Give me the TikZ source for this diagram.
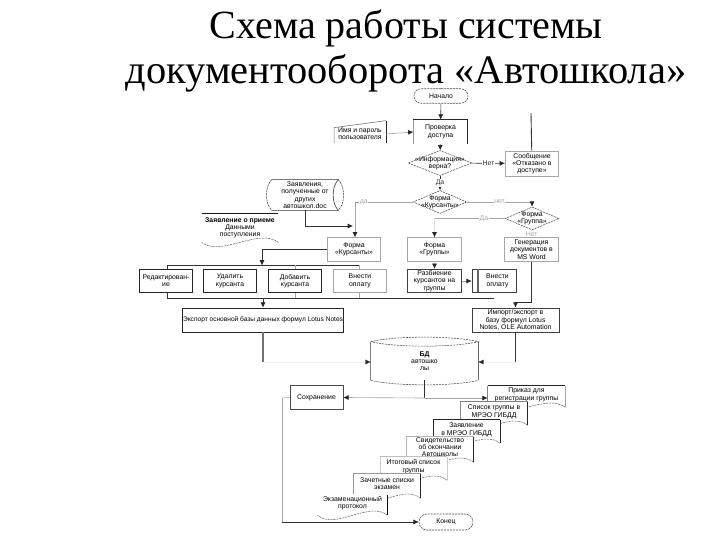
\documentclass[tikz,border=0pt]{standalone}
\usepackage{fontspec}
\setmainfont{Liberation Serif}
\newfontfamily\boxfont{Liberation Sans}
\usetikzlibrary{shapes.geometric,shapes.misc,calc,arrows.meta}
\tikzset{
	>={Latex[length=3pt,width=2.8pt,black!85]},
	lbl/.style={font=\boxfont\fontsize{3.9}{4.15}\selectfont,align=center,inner sep=0pt},
	box/.style={lbl,draw=black!75,line width=0.35pt,minimum width=1.07cm,minimum height=0.47cm},
	softbox/.style={box,draw=black!35},
	doc/.style={lbl,fill=white,minimum width=1.33cm,minimum height=0.46cm},
	dotted line/.style={line width=0.3pt,dash pattern=on 1.2pt off 0.5pt},
	dia/.style={lbl,draw=black!70,dotted line,diamond,aspect=2.4,inner xsep=-9pt,inner ysep=-4pt},
	term/.style={lbl,draw=black!70,dotted line,rounded rectangle,minimum width=1.08cm,minimum height=0.29cm},
	link/.style={line width=0.35pt,black!80},
	softlink/.style={line width=0.35pt,black!35},
	tick/.style={lbl,fill=white,inner sep=0.3pt}
}
% text of a sheet sits a little above its middle
\newcommand{\lift}{\\[-1.35pt]\mbox{}}
% wavy lower edge of a document sheet
\newcommand{\wave}[1]{
	\draw[black!60,dotted line] (#1.south east) .. controls ($(#1.south west)!0.75!(#1.south east)+(0,-15)$) and ($(#1.south west)!0.25!(#1.south east)+(0,15)$) .. (#1.south west);
}
% sides of a sheet: name, left, top, right
\newcommand{\sheet}[4]{
	\draw[black!#2,line width=0.35pt] (#1.south west) -- (#1.north west);
	\draw[black!#3,line width=0.35pt] (#1.north west) -- (#1.north east);
	\draw[black!#4,line width=0.4pt] (#1.north east) -- (#1.south east);
	\wave{#1}
}
\begin{document}
\begin{tikzpicture}[x=0.02cm,y=-0.02cm]
	\useasboundingbox (0,0) rectangle (720,540);
	\node (title1) at (406,28) {\fontsize{22.8}{28}\selectfont Схема работы системы};
	\node (title2) at (406,73) {\fontsize{23}{28}\selectfont документооборота «Автошкола»};

	\node[term] (start) at (441,96) {Начало};
	\node[lbl,minimum width=1.07cm,minimum height=0.48cm] (check) at (440.5,132) {Проверка\\доступа};
	\draw[black!40,line width=0.35pt] (check.south west) -- (check.north west);
	\draw[black!85,line width=0.4pt] (check.north west) -- (check.north east) -- (check.south east);
	\node[lbl,minimum width=1.02cm,minimum height=0.52cm] (login) at (360,134) {Имя и пароль\\пользователя};
	\draw[black!55,line width=0.35pt] ($(login.south west)+(0,-4)$) -- ($(login.north west)+(0,7)$) -- (login.north east);
	\draw[black!85,line width=0.35pt] (login.north east) -- ($(login.south east)+(0,-4)$);
	\node[dia,minimum width=1.28cm,minimum height=0.5cm] (dinfo) at (440,163) {«Информация»\\верна?};
	\node[softbox,minimum height=0.5cm] (deny) at (532,163.5) {Сообщение\\«Отказано в\\доступе»};
	\coordinate (denyup) at (531,113);
	\node[dia,minimum width=1.07cm,minimum height=0.46cm] (dstud) at (440,202) {Форма\\«Курсанты»};
	\node[dia,minimum width=1.07cm,minimum height=0.46cm] (dgroup) at (532,218.5) {Форма\\«Группа»};

	\node[lbl,minimum width=1.32cm,minimum height=0.6cm] (other) at (305,195) {Заявления,\\полученные от\\других\\автошкол.doc};
	\draw[black!80,line width=0.35pt] (other.north west) -- (other.north east) .. controls ($(other.east)+(-7,-8)$) and ($(other.east)+(-7,8)$) .. (other.south east) -- (other.south west);
	\draw[black!80,dotted line] (other.north east) .. controls ($(other.east)+(7,-8)$) and ($(other.east)+(7,8)$) .. (other.south east);
	\draw[black!80,dotted line] (other.north west) .. controls ($(other.west)+(-7,-8)$) and ($(other.west)+(-7,8)$) .. (other.south west);
	\node[lbl,minimum width=1.52cm,minimum height=0.56cm] (appl) at (240,228) {\textbf{Заявление о приеме}\\Данными\\поступления};
	\draw[black!90,line width=0.45pt] (appl.north west) -- (appl.north east);
	\wave{appl}

	\node[softbox] (fstud) at (354,249.5) {Форма\\«Курсанты»};
	\node[softbox] (fgroup) at (434.5,249.5) {Форма\\«Группы»};
	\node[softbox] (docs) at (531.5,249.5) {Генерация\\документов в\\MS Word};

	\node[box,draw=black!85] (edit) at (166,281) {Редактирован-\\ие};
	\node[box,draw=black!85] (del) at (230,281) {Удалить\\курсанта};
	\node[box,draw=black!85] (add) at (295,281) {Добавить\\курсанта};
	\node[softbox] (pay) at (360,281) {Внести\\оплату};
	\node[box] (split) at (434.5,281) {Разбиение\\курсантов на\\группы};
	\node[box,minimum width=0.88cm] (pay2) at (494,281) {\hspace{4pt}Внести\\\hspace{4pt}оплату};
	\draw[black!60,line width=0.8pt] (478,269.5) -- (478,292.5);

	\coordinate (topl) at (167,265.5);
	\coordinate (topr) at (359,265.5);
	\coordinate (topm) at (262,265.5);
	\coordinate (botl) at (167,298);
	\coordinate (botr) at (494,298);
	\coordinate (botm) at (263,298);
	\node[box,draw=black!85,minimum width=3.22cm,minimum height=0.48cm,font=\boxfont\fontsize{3.75}{4.15}\selectfont] (expa) at (263,320) {Экспорт основной базы данных формул Lotus Notes};
	\node[box,minimum width=1.74cm,minimum height=0.48cm] (expb) at (515.5,320) {Импорт/экспорт в\\базу формул Lotus\\Notes, OLE Automation};
	\coordinate (expaend) at (263,362);
	\coordinate (expbend) at (515.5,362);

	% database
	\node[lbl,minimum width=2.14cm,minimum height=0.76cm] (db) at (424.5,361) {\textbf{БД}\\автошко\\лы};
	\draw[black!70,dotted line] (db.north west) .. controls ($(db.north west)+(25,-6)$) and ($(db.north east)+(-25,-6)$) .. (db.north east) .. controls ($(db.north east)+(-25,6)$) and ($(db.north west)+(25,6)$) .. (db.north west);
	\draw[black!70,dotted line] (db.south west) .. controls ($(db.south west)+(25,6)$) and ($(db.south east)+(-25,6)$) .. (db.south east);
	\draw[black!50,line width=0.35pt] (db.north west) -- (db.south west);
	\draw[black!60,line width=0.8pt] (db.north east) -- (db.south east);

	\node[box,minimum width=1.06cm,draw=black!70] (save) at (316.5,397.5) {Сохранение};
	% each sheet lies over the one before it
	\node[doc,minimum width=1.54cm,minimum height=0.42cm] (order) at (526.5,396.5) {Приказ для\\регистрации группы\lift};
	\sheet{order}{50}{85}{35}
	\node[doc] (list) at (494,413.5) {Список группы в\\МРЭО ГИБДД\lift};
	\sheet{list}{45}{50}{85}
	\node[doc] (req) at (466.5,431.5) {Заявление\\в МРЭО ГИБДД\lift};
	\sheet{req}{85}{85}{85}
	\node[doc,minimum height=0.5cm] (cert) at (440,449.5) {Свидетельство\\об окончании\\Автошколы\lift};
	\sheet{cert}{30}{30}{85}
	\node[doc] (final) at (413.5,468.5) {Итоговый список\\группы\lift};
	\sheet{final}{20}{25}{20}
	\node[doc,minimum height=0.48cm] (exam) at (387,486) {Зачетные списки\\экзамен\lift};
	\sheet{exam}{40}{40}{85}
	\node[doc,minimum width=1.38cm,minimum height=0.4cm] (proto) at (352.5,505) {Экзаменационный\\протокол\lift};
	\sheet{proto}{0}{0}{95}
	\node[term,minimum height=0.32cm] (end) at (446,522) {Конец};
	\coordinate (saveout) at (282,398);
	\coordinate (saveend) at (282,522);

	\draw[link,->] (start) -- (check);
	\draw[softlink,->] (login.east) -- (check.west);
	\draw[link,->] (check) -- (dinfo);
	\draw[link,->] (dinfo) --node[tick] {Нет} (deny);
	\draw[link,line width=0.5pt] (denyup) -- (deny);
	\draw[link,->] (dinfo) --node[tick] {Да} (dstud);
	\draw[softlink,->] (dstud.west) --node[tick,pos=0.85] {да} (355,202) -- (fstud.north -| 355,202);
	\draw[link,->] (other.south) |- (353,226);
	\draw[softlink,->] (dstud.east) --node[tick,pos=0.5] {нет} (532,202) -- (dgroup.north);
	\draw[softlink] (dgroup.west) --node[tick,pos=0.3] {Да} (434.5,218.5);
	\draw[black!12,line width=0.35pt,->] (434.5,218.5) -- (fgroup.north);
	\draw[softlink] (dgroup) --node[tick] {Нет} (docs);
	\draw[link,->] (fstud.west) -| (topm);
	\draw[black!12,line width=0.35pt,->] (fgroup) -- (split);
	\draw[softlink,->] (split) -- (pay2);
	\draw[link] (topl) -- (topr);
	\draw[link] (edit.north -| topl) -- (topl);
	\draw[softlink] (add.north) -- (add.north |- topl);
	\draw[softlink] (pay.north -| topr) -- (topr);
	\draw[link] (botl) -- (botr);
	\draw[link] (edit.south -| botl) -- (botl);
	\draw[softlink] (add.south) -- (add.south |- botl);
	\draw[softlink] (pay.south -| topr) -- (botl -| topr);
	\draw[link,->] (botm) -- (expa);
	\draw[link,line width=0.45pt,->] (docs.south) |- (515.5,302) -- (expb.north);
	\draw[black!55,line width=0.7pt] (expa) -- (expaend);
	\draw[link] (expb) -- (expbend);
	\draw[black!6,line width=0.2pt,->] (expaend) -- (db.west |- expaend);
	\draw[black!6,line width=0.2pt,->] (expbend) -- (db.east |- expbend);
	\draw[link,line width=0.5pt] (db.south) -- (424.5,398);
	\draw[softlink,->] (424.5,398) -- (save.east);
	\draw[softlink,->] (424.5,398) -- (order.west |- 424.5,398);
	\draw[softlink] (save.west) -- (saveout);
	\draw[softlink] (saveout) -- (saveend);
	\draw[link,->] (saveend) -- (end.west);
\end{tikzpicture}
\end{document}
